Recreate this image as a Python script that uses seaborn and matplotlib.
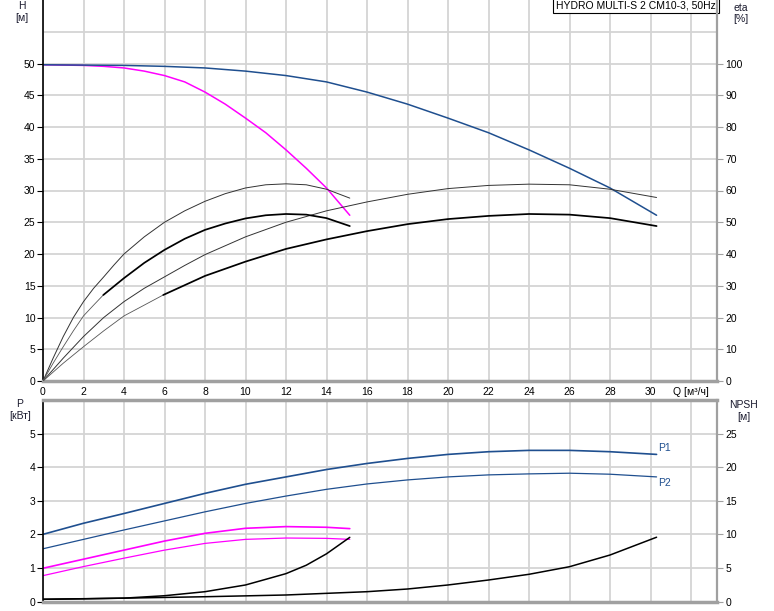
import matplotlib
matplotlib.use("Agg")
import matplotlib.pyplot as plt
import seaborn as sns

sns.set_theme(style="white")
plt.rcParams['font.family'] = ['Liberation Sans', 'DejaVu Sans']

# ---------------- data ----------------
# Head, full-size curve (blue) and reduced curve (magenta), H [m]
q_h_full = [0, 2, 4, 6, 8, 10, 12, 14, 16, 18, 20, 22, 24, 26, 28, 30.3]
h_full = [49.8, 49.75, 49.7, 49.55, 49.3, 48.8, 48.1, 47.1, 45.5, 43.6, 41.4, 39.1, 36.4, 33.5, 30.4, 26.1]
q_h_half = [0, 1, 2, 3, 4, 5, 6, 7, 8, 9, 10, 11, 12, 13, 14, 15.15]
h_half = [49.8, 49.75, 49.7, 49.55, 49.3, 48.8, 48.1, 47.1, 45.5, 43.6, 41.4, 39.1, 36.4, 33.5, 30.4, 26.1]

# Efficiency [%]
q_eta_full = [0, 1, 2, 3, 4, 5, 6, 7, 8, 10, 12, 14, 16, 18, 20, 22, 24, 26, 28, 30.3]
eta_full = [0, 7.2, 14.0, 20.0, 25.0, 29.2, 32.8, 36.4, 39.8, 45.4, 50.0, 53.6, 56.4, 58.8, 60.6, 61.6, 62.0, 61.8, 60.4, 57.8]
q_eta_half = [0, 0.5, 1, 1.5, 2, 2.5, 3, 3.5, 4, 5, 6, 7, 8, 9, 10, 11, 12, 13, 14, 15.15]
eta_half = [0, 7.2, 14.0, 20.0, 25.0, 29.2, 32.8, 36.5, 40.0, 45.4, 50.0, 53.6, 56.6, 59.0, 60.8, 61.8, 62.1, 61.8, 60.4, 57.6]

# Total efficiency [%] (thin lead-in + thick part)
q_etat_full_lead = [0, 1, 2, 3, 4, 5, 5.94]
etat_full_lead = [0, 5.6, 10.8, 15.8, 20.5, 23.9, 27.1]
q_etat_full = [5.94, 8, 10, 12, 14, 16, 18, 20, 22, 24, 26, 28, 30.3]
etat_full = [27.1, 33.1, 37.6, 41.6, 44.6, 47.2, 49.4, 51.0, 52.0, 52.6, 52.4, 51.3, 48.8]
q_etat_half_lead = [0, 0.5, 1, 1.5, 2, 2.5, 2.98]
etat_half_lead = [0, 5.6, 10.8, 15.8, 20.5, 23.9, 27.1]
q_etat_half = [2.98, 4, 5, 6, 7, 8, 9, 10, 11, 12, 13, 14, 15.15]
etat_half = [27.1, 32.4, 37.2, 41.3, 44.8, 47.6, 49.6, 51.2, 52.2, 52.6, 52.4, 51.3, 48.8]

# Power [kW]
q_p_full = [0, 2, 4, 6, 8, 10, 12, 14, 16, 18, 20, 22, 24, 26, 28, 30.3]
p1_full = [2.0, 2.33, 2.62, 2.92, 3.22, 3.49, 3.71, 3.93, 4.11, 4.26, 4.38, 4.46, 4.5, 4.5, 4.46, 4.38]
p2_full = [1.57, 1.85, 2.13, 2.4, 2.67, 2.92, 3.14, 3.34, 3.5, 3.62, 3.71, 3.77, 3.8, 3.82, 3.79, 3.71]
q_p_half = [0, 2, 4, 6, 8, 10, 12, 14, 15.15]
p1_half = [0.99, 1.26, 1.53, 1.8, 2.03, 2.18, 2.23, 2.21, 2.17]
p2_half = [0.77, 1.04, 1.29, 1.53, 1.73, 1.85, 1.89, 1.88, 1.85]

# NPSH [m]
q_npsh_full = [0, 4, 8, 12, 16, 18, 20, 22, 24, 26, 28, 30.3]
npsh_full = [0.33, 0.5, 0.71, 0.97, 1.46, 1.86, 2.46, 3.2, 4.05, 5.18, 6.92, 9.57]
q_npsh_half = [0, 2, 4, 6, 8, 10, 11, 12, 13, 14, 15.15]
npsh_half = [0.33, 0.4, 0.5, 0.86, 1.46, 2.46, 3.3, 4.15, 5.4, 7.1, 9.55]

x_ticks = [0, 2, 4, 6, 8, 10, 12, 14, 16, 18, 20, 22, 24, 26, 28, 30, 32]
x_labels = ['0', '2', '4', '6', '8', '10', '12', '14', '16', '18', '20', '22', '24', '26', '28', '30', 'Q [м³/ч]']
title = "HYDRO MULTI-S 2 CM10-3, 50Hz"

# ---------------- styling ----------------
BLUE = '#1f4f8f'
MAG = '#ff00ff'
GRID = '#d4d4d4'
SPINE_G = '#a0a0a0'
TXT = '#1a1a2e'
FS = 7.5

fig = plt.figure(figsize=(7.74, 6.11), dpi=100)
L, W = 43 / 774, 674 / 774
ax1 = fig.add_axes([L, (611 - 381) / 611, W, 381 / 611])
ax2 = fig.add_axes([L, 9.5 / 611, W, 201.5 / 611])
ax1r = ax1.twinx()
ax2r = ax2.twinx()


def draw(ax, x, y, color, lw):
    sns.lineplot(x=x, y=y, ax=ax, color=color, linewidth=lw, estimator=None,
                 sort=False, legend=False)


def style(ax, axr, ymax, yticks, rmax, rticks, top_spine):
    ax.set_xlim(0, 674 / 20.25)
    ax.set_ylim(0, ymax)
    axr.set_ylim(0, rmax)
    ax.set_xticks(x_ticks)
    ax.grid(True, color=GRID, linewidth=1.3)
    ax.set_axisbelow(True)
    ax.set_yticks(yticks[0])
    ax.set_yticklabels(yticks[1])
    axr.set_yticks(rticks)
    axr.set_yticklabels([str(v) for v in rticks])
    for s in ax.spines.values():
        s.set_visible(False)
    for s in axr.spines.values():
        s.set_visible(False)
    ax.spines['left'].set_visible(True)
    ax.spines['left'].set_color('black')
    ax.spines['left'].set_linewidth(1.2)
    ax.spines['bottom'].set_visible(True)
    ax.spines['bottom'].set_color(SPINE_G)
    ax.spines['bottom'].set_linewidth(2.5)
    axr.spines['right'].set_visible(True)
    axr.spines['right'].set_color(SPINE_G)
    axr.spines['right'].set_linewidth(1.6)
    if top_spine:
        ax.spines['top'].set_visible(True)
        ax.spines['top'].set_color(SPINE_G)
        ax.spines['top'].set_linewidth(2.5)
    ax.tick_params(axis='y', left=True, length=4, width=0.8, color='black',
                   pad=1.5, labelsize=FS, labelcolor='black')
    axr.tick_params(axis='y', right=True, length=4, width=0.8, color=SPINE_G,
                    pad=2, labelsize=FS, labelcolor='black')
    ax.set_xlabel('')
    ax.set_ylabel('')
    axr.set_ylabel('')


# ---------------- top panel ----------------
draw(ax1r, q_eta_full, eta_full, '#333333', 0.7)
draw(ax1r, q_eta_half, eta_half, '#333333', 0.7)
draw(ax1r, q_etat_full_lead, etat_full_lead, '#555555', 0.6)
draw(ax1r, q_etat_half_lead, etat_half_lead, '#555555', 0.6)
draw(ax1r, q_etat_full, etat_full, 'black', 1.25)
draw(ax1r, q_etat_half, etat_half, 'black', 1.25)
draw(ax1, q_h_half, h_half, MAG, 1.1)
draw(ax1, q_h_full, h_full, BLUE, 1.1)

style(ax1, ax1r, 60, ([0, 5, 10, 15, 20, 25, 30, 35, 40, 45, 50],
                      ['0', '5', '10', '15', '20', '25', '30', '35', '40', '45', '50']),
      120, [0, 10, 20, 30, 40, 50, 60, 70, 80, 90, 100], False)
ax1.axhline(55, color=GRID, linewidth=1.3, zorder=0.5)
ax1.set_xticklabels(x_labels)
ax1.tick_params(axis='x', bottom=False, length=0, pad=4, labelsize=FS, labelcolor='black')
ax1r.set_xlabel('')
ax1r.set_ylabel('')

ax1.text(0.9985, 0.999, title, transform=ax1.transAxes, ha='right', va='top',
         fontsize=FS, color='black',
         bbox=dict(boxstyle='square,pad=0.28', facecolor='white', edgecolor='black', linewidth=0.8))

# ---------------- bottom panel ----------------
draw(ax2, q_p_full, p1_full, BLUE, 1.2)
draw(ax2, q_p_full, p2_full, BLUE, 0.9)
draw(ax2, q_p_half, p1_half, MAG, 1.2)
draw(ax2, q_p_half, p2_half, MAG, 0.9)
draw(ax2r, q_npsh_full, npsh_full, 'black', 1.1)
draw(ax2r, q_npsh_half, npsh_half, 'black', 1.1)

style(ax2, ax2r, 6, ([0, 1, 2, 3, 4, 5], ['0', '1', '2', '3', '4', '5']),
      30, [0, 5, 10, 15, 20, 25], True)
ax2.set_xticklabels([])
ax2.tick_params(axis='x', bottom=False, length=0)
ax2r.set_xlabel('')
ax2r.set_ylabel('')

ax2.text(30.4, 4.56, 'P1', fontsize=FS, color=BLUE, ha='left', va='center')
ax2.text(30.4, 3.52, 'P2', fontsize=FS, color=BLUE, ha='left', va='center')

# ---------------- axis captions ----------------
def cap(x, y, s):
    fig.text(x / 774, 1 - y / 611, s, fontsize=FS, color=TXT, ha='center', va='center')

cap(22, 6, 'H')
cap(22, 18, '[м]')
cap(741, 8, 'eta')
cap(741, 19, '[%]')
cap(20, 404, 'P')
cap(20, 416, '[кВт]')
cap(744, 405, 'NPSH')
cap(744, 417, '[м]')

fig.savefig('out.png', dpi=100)
